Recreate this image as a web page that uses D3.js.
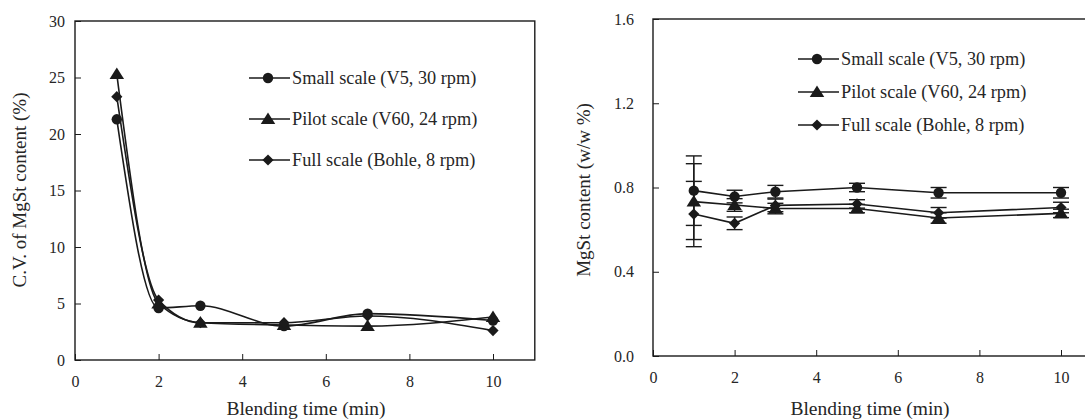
<!DOCTYPE html>
<html>
<head>
<meta charset="utf-8">
<script src="https://cdn.jsdelivr.net/npm/d3@7"></script>
<style>
  body { margin: 0; background: #fff; }
  svg text { font-family: "Liberation Serif", "Times New Roman", serif; fill: #262626; }
</style>
</head>
<body>
<svg id="chart" width="1085" height="419"></svg>
<script>
// blending times (min)
const times = [1, 2, 3, 5, 7, 10]
const seriesNames = ["Small scale (V5, 30 rpm)", "Pilot scale (V60, 24 rpm)", "Full scale (Bohle, 8 rpm)"]
const symbols = ["circle", "triangle", "diamond"]

// left panel: C.V. of MgSt content (%)
const cvSmall = [21.3, 4.6, 4.8, 3.0, 4.1, 3.5]
const cvPilot = [25.3, 5.0, 3.3, 3.1, 3.0, 3.8]
const cvFull = [23.3, 5.3, 3.3, 3.3, 3.9, 2.6]

// right panel: MgSt content (w/w %) and error bars
const mgSmall = [0.785, 0.757, 0.78, 0.80, 0.775, 0.775]
const mgPilot = [0.733, 0.717, 0.70, 0.70, 0.655, 0.677]
const mgFull = [0.674, 0.63, 0.715, 0.722, 0.68, 0.705]
const errSmall = [0.165, 0.03, 0.03, 0.02, 0.025, 0.025]
const errPilot = [0.18, 0.03, 0.025, 0.02, 0.025, 0.02]
const errFull = [0.155, 0.03, 0.03, 0.02, 0.025, 0.025]

const xTicks = [0, 2, 4, 6, 8, 10]
const cvTicks = [0, 5, 10, 15, 20, 25, 30]
const mgTicks = [0, 0.4, 0.8, 1.2, 1.6]

const ink = "#1a1a1a"
const serif = "Liberation Serif"
const svg = d3.select("#chart")

// excel-like markers, diamond is a square turned 45 degrees
function symbolPath(name, r) {
    if (name === "circle") return d3.symbol().type(d3.symbolCircle).size(Math.PI * r * r)()
    if (name === "triangle") {
        const h = r * 1.1
        return `M0,${-h}L${h * 1.1},${h * 0.75}L${-h * 1.1},${h * 0.75}Z`
    }
    return `M0,${-r}L${r},0L0,${r}L${-r},0Z`
}

function drawPanel(opt) {
    const x = d3.scaleLinear().domain([0, 11]).range([opt.left, opt.left + opt.xUnit * 11])
    const y = d3.scaleLinear().domain(opt.yDomain).range([opt.bottom, opt.top])

    // frame
    svg.append("rect")
        .attr("x", x(0)).attr("y", y(opt.yDomain[1]))
        .attr("width", x(11) - x(0)).attr("height", y(opt.yDomain[0]) - y(opt.yDomain[1]))
        .attr("fill", "none").attr("stroke", ink).attr("stroke-width", 1.4)

    const gx = svg.append("g")
        .attr("transform", `translate(0, ${opt.bottom})`)
        .call(d3.axisBottom(x).tickValues(xTicks).tickSizeInner(-6).tickSizeOuter(0).tickPadding(16))
    gx.select(".domain").remove()

    const gy = svg.append("g")
        .attr("transform", `translate(${opt.left}, 0)`)
        .call(d3.axisLeft(y).tickValues(opt.yTicks).tickFormat(opt.yFormat)
            .tickSizeInner(-6).tickSizeOuter(0).tickPadding(opt.yPad))
    gy.select(".domain").remove()

    svg.selectAll(".tick line").attr("stroke", ink).attr("stroke-width", 1)
    svg.selectAll(".tick text")
        .style("font-family", serif)
        .style("font-size", "16px")

    // axis titles
    svg.append("text")
        .attr("x", opt.xTitleX).attr("y", 415)
        .attr("text-anchor", "middle")
        .style("font-family", serif)
        .style("font-size", "19.5px")
        .text("Blending time (min)")

    svg.append("text")
        .attr("transform", `translate(${opt.yTitleX}, ${opt.yTitleY}) rotate(-90)`)
        .attr("text-anchor", "middle")
        .style("font-family", serif)
        .style("font-size", "19px")
        .text(opt.yTitle)

    // error bars
    if (opt.errors) {
        opt.values.forEach(function (vals, s) {
            const errs = opt.errors[s]
            const g = svg.append("g").attr("stroke", ink).attr("stroke-width", 1.4)
            times.forEach(function (t, i) {
                const lo = y(vals[i] - errs[i]), hi = y(vals[i] + errs[i])
                g.append("line").attr("x1", x(t)).attr("x2", x(t)).attr("y1", lo).attr("y2", hi)
                g.append("line").attr("x1", x(t) - 8).attr("x2", x(t) + 8).attr("y1", lo).attr("y2", lo)
                g.append("line").attr("x1", x(t) - 8).attr("x2", x(t) + 8).attr("y1", hi).attr("y2", hi)
            })
        })
    }

    // lines and markers
    const line = d3.line()
        .x(function (d) { return x(d[0]) })
        .y(function (d) { return y(d[1]) })
        .curve(opt.curve)

    opt.values.forEach(function (vals, s) {
        const pts = times.map(function (t, i) { return [t, vals[i]] })
        svg.append("path")
            .attr("d", line(pts))
            .attr("fill", "none").attr("stroke", ink).attr("stroke-width", 1.6)
        svg.selectAll(null)
            .data(pts)
            .join("path")
            .attr("transform", function (d) { return `translate(${x(d[0])}, ${y(d[1])})` })
            .attr("d", symbolPath(symbols[s], opt.markerR[s]))
            .attr("fill", ink)
    })

    // legend
    seriesNames.forEach(function (name, s) {
        const ly = opt.legendY + s * opt.legendGap
        svg.append("line")
            .attr("x1", opt.legendX).attr("x2", opt.legendX + 41)
            .attr("y1", ly).attr("y2", ly)
            .attr("stroke", ink).attr("stroke-width", 1.6)
        svg.append("path")
            .attr("transform", `translate(${opt.legendX + 19}, ${ly})`)
            .attr("d", symbolPath(symbols[s], opt.markerR[s]))
            .attr("fill", ink)
        svg.append("text")
            .attr("x", opt.legendX + 43).attr("y", ly)
            .attr("dy", "0.35em")
            .style("font-family", serif)
            .style("font-size", "18.3px")
            .text(name)
    })
}

drawPanel({
    left: 75, xUnit: 41.8, top: 21, bottom: 360,
    yDomain: [0, 30], yTicks: cvTicks, yFormat: d3.format("d"), yPad: 10,
    yTitle: "C.V. of MgSt content (%)", yTitleX: 26, yTitleY: 190, xTitleX: 306,
    values: [cvSmall, cvPilot, cvFull],
    curve: d3.curveMonotoneX,
    markerR: [5.2, 6, 5.6],
    legendX: 249, legendY: 78, legendGap: 41
})

drawPanel({
    left: 653, xUnit: 40.8, top: 19, bottom: 356,
    yDomain: [0, 1.6], yTicks: mgTicks, yFormat: d3.format(".1f"), yPad: 19,
    yTitle: "MgSt content (w/w %)", yTitleX: 590, yTitleY: 190, xTitleX: 870,
    values: [mgSmall, mgPilot, mgFull],
    errors: [errSmall, errPilot, errFull],
    curve: d3.curveLinear,
    markerR: [5.2, 6, 5.6],
    legendX: 798, legendY: 59, legendGap: 33
})
</script>
</body>
</html>
